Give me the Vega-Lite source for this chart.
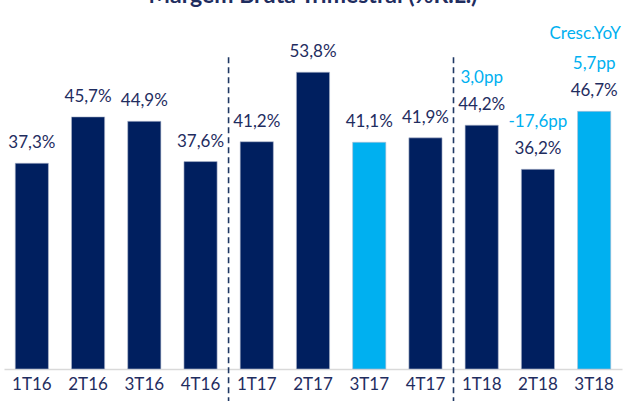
{
  "$schema": "https://vega.github.io/schema/vega-lite/v6.json",
  "autosize": {"type": "none"},
  "width": 618,
  "height": 331,
  "padding": {"top": 38, "left": 4, "right": 5, "bottom": 35},
  "background": "white",
  "config": {"view": {"stroke": null}, "font": "Lato"},
  "title": {
    "text": "Margem Bruta Trimestral (%R.L.)",
    "fontSize": 23,
    "fontWeight": "bold",
    "color": "#1F2D5F",
    "anchor": "middle",
    "offset": 17
  },
  "datasets": {
    "bars": [
      {"q": "1T16", "v": 37.3, "lbl": "37,3%", "hl": "n"},
      {"q": "2T16", "v": 45.7, "lbl": "45,7%", "hl": "n"},
      {"q": "3T16", "v": 44.9, "lbl": "44,9%", "hl": "n"},
      {"q": "4T16", "v": 37.6, "lbl": "37,6%", "hl": "n"},
      {"q": "1T17", "v": 41.2, "lbl": "41,2%", "hl": "n"},
      {"q": "2T17", "v": 53.8, "lbl": "53,8%", "hl": "n"},
      {"q": "3T17", "v": 41.1, "lbl": "41,1%", "hl": "y"},
      {"q": "4T17", "v": 41.9, "lbl": "41,9%", "hl": "n"},
      {"q": "1T18", "v": 44.2, "lbl": "44,2%", "hl": "n"},
      {"q": "2T18", "v": 36.2, "lbl": "36,2%", "hl": "n"},
      {"q": "3T18", "v": 46.7, "lbl": "46,7%", "hl": "y"}
    ],
    "yoy": [
      {"q": "1T18", "v": 44.2, "pp": "3,0pp"},
      {"q": "2T18", "v": 36.2, "pp": "-17,6pp"},
      {"q": "3T18", "v": 46.7, "pp": "5,7pp"}
    ],
    "head": [{"q": "3T18", "v": 46.7, "t": "Cresc.YoY"}],
    "seps": [{"q": "1T17"}, {"q": "1T18"}]
  },
  "encoding": {
    "x": {
      "field": "q",
      "type": "ordinal",
      "sort": null,
      "scale": {"domain": ["1T16","2T16","3T16","4T16","1T17","2T17","3T17","4T17","1T18","2T18","3T18"], "paddingInner": 0.41, "paddingOuter": 0.2},
      "axis": {
        "title": null,
        "labelAngle": 0,
        "labelFontSize": 17,
        "labelColor": "#1F2D5F",
        "labelPadding": 7,
        "ticks": false,
        "domainColor": "#D9D9D9",
        "domainWidth": 1.5,
        "grid": false
      }
    }
  },
  "layer": [
    {
      "data": {"name": "bars"},
      "mark": {"type": "bar", "stroke": "#B4BCD0", "strokeWidth": 0.6},
      "encoding": {
        "y": {"field": "v", "type": "quantitative", "scale": {"domain": [0, 60], "nice": false}, "axis": null},
        "color": {"field": "hl", "type": "nominal", "scale": {"domain": ["n", "y"], "range": ["#001F5F", "#00B0F0"]}, "legend": null}
      }
    },
    {
      "data": {"name": "bars"},
      "mark": {"type": "text", "fontSize": 17, "color": "#1F2D5F", "baseline": "alphabetic", "dy": -15},
      "encoding": {
        "y": {"field": "v", "type": "quantitative"},
        "text": {"field": "lbl"}
      }
    },
    {
      "data": {"name": "yoy"},
      "mark": {"type": "text", "fontSize": 17, "color": "#00B0F0", "baseline": "alphabetic", "dy": -42},
      "encoding": {
        "y": {"field": "v", "type": "quantitative"},
        "text": {"field": "pp"}
      }
    },
    {
      "data": {"name": "head"},
      "mark": {"type": "text", "fontSize": 17, "color": "#00B0F0", "baseline": "alphabetic", "dy": -72, "dx": -9},
      "encoding": {
        "y": {"field": "v", "type": "quantitative"},
        "text": {"field": "t"}
      }
    },
    {
      "data": {"name": "seps"},
      "mark": {"type": "rule", "color": "#1F3864", "strokeWidth": 1.6, "strokeDash": [6, 4]},
      "encoding": {
        "x": {"field": "q", "type": "ordinal", "bandPosition": -0.35},
        "y": {"datum": 56.5},
        "y2": {"datum": -5.8}
      }
    }
  ]
}
